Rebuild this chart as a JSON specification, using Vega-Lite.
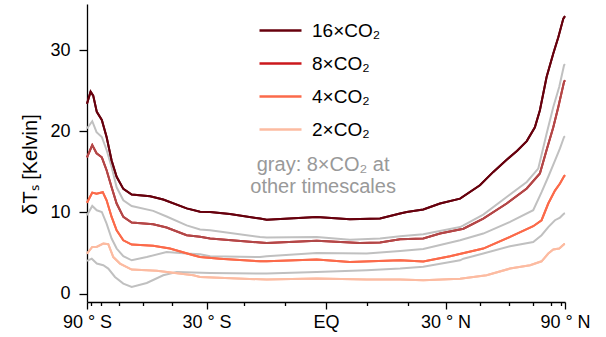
{
  "$schema": "https://vega.github.io/schema/vega-lite/v6.json",
  "width": 478,
  "height": 298,
  "autosize": {"type": "none"},
  "padding": {"left": 87, "top": 4, "right": 41, "bottom": 35},
  "config": {
    "view": {"stroke": null},
    "font": "Liberation Sans",
    "axis": {"grid": false, "domainColor": "#000", "tickColor": "#000", "domainWidth": 1.3, "tickWidth": 1.3, "labelColor": "#000", "titleColor": "#000", "labelFontSize": 18, "labelFont": "Liberation Sans", "labelFlush": false, "labelOverlap": false}
  },
  "datasets": {
    "red": [
      {"series": "16×CO₂", "x": -1, "v": 23.4}, {"series": "16×CO₂", "x": -0.985, "v": 24.9}, {"series": "16×CO₂", "x": -0.974, "v": 24.4}, {"series": "16×CO₂", "x": -0.959, "v": 22.4}, {"series": "16×CO₂", "x": -0.938, "v": 21.4}, {"series": "16×CO₂", "x": -0.918, "v": 19.3}, {"series": "16×CO₂", "x": -0.897, "v": 16.4}, {"series": "16×CO₂", "x": -0.876, "v": 14.4}, {"series": "16×CO₂", "x": -0.848, "v": 12.9}, {"series": "16×CO₂", "x": -0.813, "v": 12.2}, {"series": "16×CO₂", "x": -0.736, "v": 12.0}, {"series": "16×CO₂", "x": -0.681, "v": 11.6}, {"series": "16×CO₂", "x": -0.583, "v": 10.5}, {"series": "16×CO₂", "x": -0.527, "v": 10.1}, {"series": "16×CO₂", "x": -0.485, "v": 10.06}, {"series": "16×CO₂", "x": -0.402, "v": 9.8}, {"series": "16×CO₂", "x": -0.276, "v": 9.25}, {"series": "16×CO₂", "x": -0.248, "v": 9.1}, {"series": "16×CO₂", "x": -0.039, "v": 9.45}, {"series": "16×CO₂", "x": 0.1, "v": 9.16}, {"series": "16×CO₂", "x": 0.226, "v": 9.25}, {"series": "16×CO₂", "x": 0.31, "v": 9.86}, {"series": "16×CO₂", "x": 0.338, "v": 10.06}, {"series": "16×CO₂", "x": 0.407, "v": 10.36}, {"series": "16×CO₂", "x": 0.477, "v": 11.1}, {"series": "16×CO₂", "x": 0.561, "v": 11.7}, {"series": "16×CO₂", "x": 0.644, "v": 13.35}, {"series": "16×CO₂", "x": 0.7, "v": 15.0}, {"series": "16×CO₂", "x": 0.756, "v": 16.5}, {"series": "16×CO₂", "x": 0.8, "v": 17.6}, {"series": "16×CO₂", "x": 0.84, "v": 18.8}, {"series": "16×CO₂", "x": 0.874, "v": 20.5}, {"series": "16×CO₂", "x": 0.895, "v": 22.6}, {"series": "16×CO₂", "x": 0.923, "v": 26.7}, {"series": "16×CO₂", "x": 0.951, "v": 29.6}, {"series": "16×CO₂", "x": 0.972, "v": 31.6}, {"series": "16×CO₂", "x": 0.993, "v": 33.9}, {"series": "16×CO₂", "x": 1, "v": 34.2},
      {"series": "8×CO₂", "x": -1, "v": 16.8}, {"series": "8×CO₂", "x": -0.978, "v": 18.3}, {"series": "8×CO₂", "x": -0.96, "v": 17.3}, {"series": "8×CO₂", "x": -0.938, "v": 16.8}, {"series": "8×CO₂", "x": -0.918, "v": 15.2}, {"series": "8×CO₂", "x": -0.897, "v": 13.1}, {"series": "8×CO₂", "x": -0.876, "v": 11.1}, {"series": "8×CO₂", "x": -0.848, "v": 9.45}, {"series": "8×CO₂", "x": -0.813, "v": 8.75}, {"series": "8×CO₂", "x": -0.723, "v": 8.55}, {"series": "8×CO₂", "x": -0.667, "v": 8.14}, {"series": "8×CO₂", "x": -0.583, "v": 7.2}, {"series": "8×CO₂", "x": -0.527, "v": 7.0}, {"series": "8×CO₂", "x": -0.485, "v": 6.8}, {"series": "8×CO₂", "x": -0.276, "v": 6.3}, {"series": "8×CO₂", "x": -0.248, "v": 6.24}, {"series": "8×CO₂", "x": -0.039, "v": 6.5}, {"series": "8×CO₂", "x": 0.142, "v": 6.24}, {"series": "8×CO₂", "x": 0.226, "v": 6.3}, {"series": "8×CO₂", "x": 0.31, "v": 6.7}, {"series": "8×CO₂", "x": 0.407, "v": 6.8}, {"series": "8×CO₂", "x": 0.477, "v": 7.4}, {"series": "8×CO₂", "x": 0.575, "v": 8.0}, {"series": "8×CO₂", "x": 0.658, "v": 9.25}, {"series": "8×CO₂", "x": 0.756, "v": 11.1}, {"series": "8×CO₂", "x": 0.84, "v": 12.95}, {"series": "8×CO₂", "x": 0.895, "v": 14.8}, {"series": "8×CO₂", "x": 0.923, "v": 17.7}, {"series": "8×CO₂", "x": 0.951, "v": 20.5}, {"series": "8×CO₂", "x": 0.972, "v": 23.0}, {"series": "8×CO₂", "x": 0.996, "v": 26.1}, {"series": "8×CO₂", "x": 1, "v": 26.3},
      {"series": "4×CO₂", "x": -1, "v": 11.2}, {"series": "4×CO₂", "x": -0.978, "v": 12.45}, {"series": "4×CO₂", "x": -0.96, "v": 12.3}, {"series": "4×CO₂", "x": -0.934, "v": 12.5}, {"series": "4×CO₂", "x": -0.918, "v": 11.5}, {"series": "4×CO₂", "x": -0.897, "v": 9.45}, {"series": "4×CO₂", "x": -0.876, "v": 7.8}, {"series": "4×CO₂", "x": -0.848, "v": 6.57}, {"series": "4×CO₂", "x": -0.813, "v": 6.04}, {"series": "4×CO₂", "x": -0.723, "v": 5.9}, {"series": "4×CO₂", "x": -0.653, "v": 5.55}, {"series": "4×CO₂", "x": -0.555, "v": 4.72}, {"series": "4×CO₂", "x": -0.527, "v": 4.5}, {"series": "4×CO₂", "x": -0.444, "v": 4.3}, {"series": "4×CO₂", "x": -0.276, "v": 3.98}, {"series": "4×CO₂", "x": -0.248, "v": 3.98}, {"series": "4×CO₂", "x": -0.039, "v": 4.19}, {"series": "4×CO₂", "x": 0.1, "v": 3.9}, {"series": "4×CO₂", "x": 0.31, "v": 4.1}, {"series": "4×CO₂", "x": 0.407, "v": 3.95}, {"series": "4×CO₂", "x": 0.519, "v": 4.6}, {"series": "4×CO₂", "x": 0.658, "v": 5.55}, {"series": "4×CO₂", "x": 0.77, "v": 6.98}, {"series": "4×CO₂", "x": 0.867, "v": 8.3}, {"series": "4×CO₂", "x": 0.902, "v": 9.04}, {"series": "4×CO₂", "x": 0.93, "v": 11.1}, {"series": "4×CO₂", "x": 0.958, "v": 12.7}, {"series": "4×CO₂", "x": 0.979, "v": 13.56}, {"series": "4×CO₂", "x": 0.996, "v": 14.46}, {"series": "4×CO₂", "x": 1, "v": 14.6},
      {"series": "2×CO₂", "x": -1, "v": 4.93}, {"series": "2×CO₂", "x": -0.978, "v": 5.75}, {"series": "2×CO₂", "x": -0.96, "v": 5.75}, {"series": "2×CO₂", "x": -0.932, "v": 6.17}, {"series": "2×CO₂", "x": -0.911, "v": 6.08}, {"series": "2×CO₂", "x": -0.89, "v": 4.5}, {"series": "2×CO₂", "x": -0.862, "v": 3.7}, {"series": "2×CO₂", "x": -0.813, "v": 2.96}, {"series": "2×CO₂", "x": -0.708, "v": 2.8}, {"series": "2×CO₂", "x": -0.555, "v": 2.26}, {"series": "2×CO₂", "x": -0.527, "v": 2.05}, {"series": "2×CO₂", "x": -0.276, "v": 1.76}, {"series": "2×CO₂", "x": -0.248, "v": 1.72}, {"series": "2×CO₂", "x": -0.039, "v": 1.85}, {"series": "2×CO₂", "x": 0.17, "v": 1.72}, {"series": "2×CO₂", "x": 0.31, "v": 1.72}, {"series": "2×CO₂", "x": 0.407, "v": 1.64}, {"series": "2×CO₂", "x": 0.561, "v": 1.82}, {"series": "2×CO₂", "x": 0.672, "v": 2.26}, {"series": "2×CO₂", "x": 0.77, "v": 3.08}, {"series": "2×CO₂", "x": 0.854, "v": 3.49}, {"series": "2×CO₂", "x": 0.902, "v": 3.98}, {"series": "2×CO₂", "x": 0.93, "v": 4.93}, {"series": "2×CO₂", "x": 0.951, "v": 5.43}, {"series": "2×CO₂", "x": 0.976, "v": 5.55}, {"series": "2×CO₂", "x": 0.996, "v": 6.08}, {"series": "2×CO₂", "x": 1, "v": 6.1}
    ],
    "gray": [
      {"series": "A", "x": -1, "v": 20.35}, {"series": "A", "x": -0.978, "v": 21.25}, {"series": "A", "x": -0.96, "v": 19.9}, {"series": "A", "x": -0.938, "v": 19.3}, {"series": "A", "x": -0.918, "v": 17.7}, {"series": "A", "x": -0.897, "v": 15.6}, {"series": "A", "x": -0.876, "v": 13.1}, {"series": "A", "x": -0.848, "v": 11.5}, {"series": "A", "x": -0.813, "v": 10.8}, {"series": "A", "x": -0.723, "v": 10.2}, {"series": "A", "x": -0.667, "v": 9.5}, {"series": "A", "x": -0.583, "v": 8.4}, {"series": "A", "x": -0.527, "v": 7.9}, {"series": "A", "x": -0.485, "v": 7.8}, {"series": "A", "x": -0.276, "v": 6.98}, {"series": "A", "x": -0.248, "v": 6.9}, {"series": "A", "x": -0.039, "v": 6.98}, {"series": "A", "x": 0.1, "v": 6.65}, {"series": "A", "x": 0.226, "v": 6.78}, {"series": "A", "x": 0.31, "v": 7.07}, {"series": "A", "x": 0.407, "v": 7.3}, {"series": "A", "x": 0.561, "v": 8.2}, {"series": "A", "x": 0.575, "v": 8.4}, {"series": "A", "x": 0.658, "v": 9.74}, {"series": "A", "x": 0.756, "v": 11.9}, {"series": "A", "x": 0.84, "v": 13.76}, {"series": "A", "x": 0.888, "v": 15.4}, {"series": "A", "x": 0.923, "v": 19.7}, {"series": "A", "x": 0.951, "v": 23.0}, {"series": "A", "x": 0.976, "v": 25.5}, {"series": "A", "x": 0.996, "v": 28.15}, {"series": "A", "x": 1, "v": 28.3},
      {"series": "B", "x": -1, "v": 9.65}, {"series": "B", "x": -0.978, "v": 10.8}, {"series": "B", "x": -0.959, "v": 10.27}, {"series": "B", "x": -0.938, "v": 10.06}, {"series": "B", "x": -0.918, "v": 8.63}, {"series": "B", "x": -0.897, "v": 6.78}, {"series": "B", "x": -0.876, "v": 5.55}, {"series": "B", "x": -0.848, "v": 4.6}, {"series": "B", "x": -0.813, "v": 4.1}, {"series": "B", "x": -0.75, "v": 4.5}, {"series": "B", "x": -0.667, "v": 5.13}, {"series": "B", "x": -0.583, "v": 4.93}, {"series": "B", "x": -0.527, "v": 4.85}, {"series": "B", "x": -0.485, "v": 4.6}, {"series": "B", "x": -0.276, "v": 4.5}, {"series": "B", "x": -0.248, "v": 4.6}, {"series": "B", "x": -0.039, "v": 5.0}, {"series": "B", "x": 0.17, "v": 4.93}, {"series": "B", "x": 0.31, "v": 5.25}, {"series": "B", "x": 0.407, "v": 5.5}, {"series": "B", "x": 0.561, "v": 6.57}, {"series": "B", "x": 0.658, "v": 7.4}, {"series": "B", "x": 0.77, "v": 8.83}, {"series": "B", "x": 0.867, "v": 10.27}, {"series": "B", "x": 0.902, "v": 12.5}, {"series": "B", "x": 0.93, "v": 14.4}, {"series": "B", "x": 0.958, "v": 16.4}, {"series": "B", "x": 0.979, "v": 17.9}, {"series": "B", "x": 0.996, "v": 19.3}, {"series": "B", "x": 1, "v": 19.4},
      {"series": "C", "x": -1, "v": 4.02}, {"series": "C", "x": -0.98, "v": 4.3}, {"series": "C", "x": -0.959, "v": 3.7}, {"series": "C", "x": -0.932, "v": 3.49}, {"series": "C", "x": -0.911, "v": 3.08}, {"series": "C", "x": -0.883, "v": 2.05}, {"series": "C", "x": -0.848, "v": 1.23}, {"series": "C", "x": -0.813, "v": 0.81}, {"series": "C", "x": -0.75, "v": 1.3}, {"series": "C", "x": -0.681, "v": 2.26}, {"series": "C", "x": -0.625, "v": 2.66}, {"series": "C", "x": -0.485, "v": 2.54}, {"series": "C", "x": -0.276, "v": 2.47}, {"series": "C", "x": -0.248, "v": 2.47}, {"series": "C", "x": -0.039, "v": 2.66}, {"series": "C", "x": 0.17, "v": 2.87}, {"series": "C", "x": 0.31, "v": 3.08}, {"series": "C", "x": 0.407, "v": 3.3}, {"series": "C", "x": 0.561, "v": 4.1}, {"series": "C", "x": 0.575, "v": 4.3}, {"series": "C", "x": 0.658, "v": 4.93}, {"series": "C", "x": 0.77, "v": 5.83}, {"series": "C", "x": 0.867, "v": 6.36}, {"series": "C", "x": 0.902, "v": 7.2}, {"series": "C", "x": 0.93, "v": 8.2}, {"series": "C", "x": 0.958, "v": 9.04}, {"series": "C", "x": 0.979, "v": 9.37}, {"series": "C", "x": 0.996, "v": 9.86}, {"series": "C", "x": 1, "v": 9.9}
    ],
    "note": [{"label": "gray"}]
  },
  "resolve": {"scale": {"color": "independent"}, "legend": {"color": "independent"}},
  "layer": [
    {
      "data": {"name": "gray"},
      "mark": {"type": "line", "color": "#c0c0c0", "strokeWidth": 2},
      "encoding": {
        "x": {"field": "x", "type": "quantitative", "scale": {"domain": [-1, 1], "nice": false, "zero": false},
              "axis": {"values": [-1, -0.9848, -0.9397, -0.866, -0.766, -0.6428, -0.5, -0.342, -0.1736, 0, 0.1736, 0.342, 0.5, 0.6428, 0.766, 0.866, 0.9397, 0.9848, 1],
                       "tickCount": 100,
                       "labelOverlap": false, "labelBound": false,
                       "tickSize": {"condition": {"test": "abs(datum.value) < 0.001 || abs(abs(datum.value) - 0.5) < 0.001 || abs(abs(datum.value) - 1) < 0.001", "value": 7}, "value": 3.5},
                       "labelPadding": 4, "title": null,
                       "labelExpr": "abs(datum.value) < 0.001 ? 'EQ' : abs(datum.value + 1) < 0.001 ? '90 ° S' : abs(datum.value + 0.5) < 0.001 ? '30 ° S' : abs(datum.value - 0.5) < 0.001 ? '30 ° N' : abs(datum.value - 1) < 0.001 ? '90 ° N' : ''"}},
        "y": {"field": "v", "type": "quantitative", "scale": {"domain": [-1.04, 35.7], "nice": false, "zero": false},
              "axis": {"values": [0, 10, 20, 30], "tickSize": 8, "labelPadding": 9, "title": "δTₛ  [Kelvin]", "titleFontSize": 20, "titleFontWeight": "normal", "titlePadding": 9, "titleY": 160}},
        "detail": {"field": "series"}
      }
    },
    {
      "data": {"name": "red"},
      "mark": {"type": "line", "strokeWidth": 2},
      "encoding": {
        "x": {"field": "x", "type": "quantitative"},
        "y": {"field": "v", "type": "quantitative"},
        "color": {"field": "series", "type": "nominal",
                  "scale": {"domain": ["16×CO₂", "8×CO₂", "4×CO₂", "2×CO₂"], "range": ["#67000d", "#cb181d", "#fb6a4a", "#fcbba1"]},
                  "legend": {"orient": "none", "legendX": 171, "legendY": 4, "title": null, "symbolType": "stroke", "symbolSize": 1764, "symbolStrokeWidth": 2.5, "labelFontSize": 19, "labelColor": "#000", "labelOffset": 9, "rowPadding": -6}}
      }
    },
    {
      "data": {"name": "red"},
      "mark": {"type": "line", "strokeWidth": 2},
      "encoding": {
        "x": {"field": "x", "type": "quantitative"},
        "y": {"field": "v", "type": "quantitative"},
        "color": {"field": "series", "type": "nominal",
                  "scale": {"domain": ["16×CO₂", "8×CO₂", "4×CO₂", "2×CO₂"], "range": ["#67000d", "#b04848", "#fb6a4a", "#fcbba1"]},
                  "legend": null}
      }
    },
    {
      "data": {"name": "note"},
      "mark": {"type": "text", "text": ["gray: 8×CO₂ at", "other timescales"], "fontSize": 20, "color": "#999999", "align": "center", "baseline": "middle", "lineHeight": 22},
      "encoding": {
        "x": {"datum": -0.012, "type": "quantitative"},
        "y": {"datum": 15.9, "type": "quantitative"}
      }
    }
  ]
}
